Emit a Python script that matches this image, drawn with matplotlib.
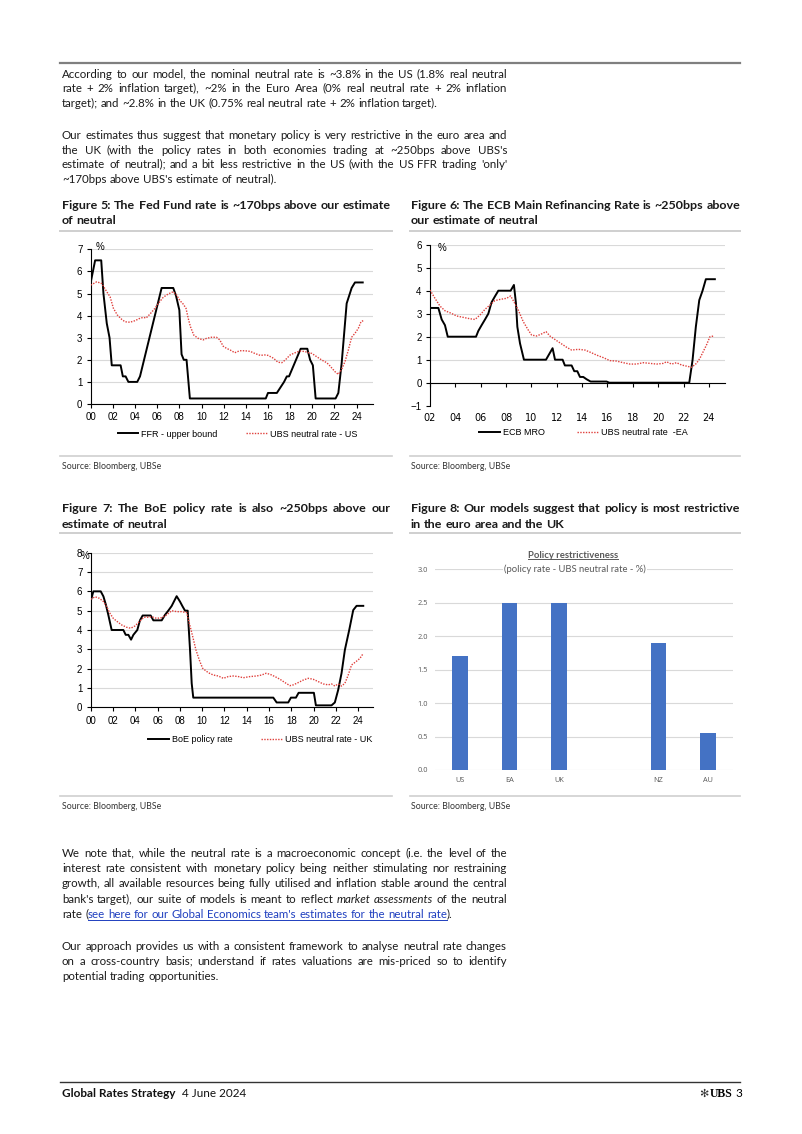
import math
import matplotlib
matplotlib.use('Agg')
import matplotlib.pyplot as plt
from matplotlib.lines import Line2D
from matplotlib.font_manager import FontProperties
import numpy as np

W, H = 802, 1134
BODY_FONT = 'Lato'
CHART_FONT = 'Liberation Sans'
LINK = '#1f3fbf'
RED = '#e0403c'

# ---------------- data (years since 2000) ----------------
us_ffr_x = [0, 0.4, 0.95, 1.15, 1.45, 1.7, 1.9, 2.7, 2.9, 3.15, 3.4, 4.2, 4.45, 6.4, 7.45, 7.7,
            8.0, 8.2, 8.4, 8.65, 8.95, 15.8, 16.0, 16.8, 17.45, 17.7, 17.9, 18.95, 19.55, 19.8,
            20.05, 20.3, 22.1, 22.35, 22.65, 23.1, 23.55, 23.85, 24.55]
us_ffr_y = [5.5, 6.5, 6.5, 5.0, 3.65, 3.0, 1.75, 1.75, 1.25, 1.25, 1.0, 1.0, 1.25, 5.25, 5.25, 4.9,
            4.25, 2.25, 2.0, 2.0, 0.25, 0.25, 0.5, 0.5, 1.0, 1.25, 1.25, 2.5, 2.5, 2.0,
            1.75, 0.25, 0.25, 0.5, 1.85, 4.55, 5.25, 5.5, 5.5]
us_neu_x = [0, 0.55, 1.0, 1.45, 1.75, 2.05, 2.4, 2.8, 3.1, 3.55, 4.0, 4.45, 4.75, 5.0, 5.35, 5.8,
            6.1, 6.55, 7.0, 7.45, 7.75, 8.05, 8.35, 8.6, 8.8, 9.0, 9.3, 9.7, 10.15, 10.45, 10.9,
            11.35, 11.65, 11.95, 12.25, 12.6, 13.0, 13.45, 13.9, 14.4, 14.8, 15.3, 15.7, 16.0,
            16.5, 16.9, 17.25, 17.55, 18.0, 18.45, 18.9, 19.35, 19.65, 19.95, 20.4, 20.85, 21.3,
            21.6, 22.05, 22.35, 22.65, 22.95, 23.25, 23.55, 23.85, 24.15, 24.4, 24.6]
us_neu_y = [5.38, 5.53, 5.45, 5.08, 4.85, 4.33, 4.03, 3.83, 3.72, 3.7, 3.77, 3.88, 3.92, 3.89, 4.07,
            4.33, 4.55, 4.83, 4.98, 5.08, 4.93, 4.68, 4.52, 4.33, 3.88, 3.5, 3.12, 2.97, 2.9, 2.97,
            3.02, 3.02, 2.9, 2.62, 2.52, 2.44, 2.32, 2.41, 2.41, 2.38, 2.29, 2.2, 2.22, 2.2, 2.07,
            1.89, 1.87, 1.99, 2.22, 2.32, 2.4, 2.37, 2.32, 2.29, 2.14, 1.99, 1.87, 1.72, 1.46,
            1.34, 1.57, 1.92, 2.44, 3.02, 3.2, 3.42, 3.73, 3.77]

ea_mro_x = [2.0, 2.66, 2.92, 3.18, 3.4, 5.63, 5.81, 6.07, 6.34, 6.6, 6.86, 7.12, 7.39, 8.36, 8.62,
            8.78, 8.89, 9.1, 9.41, 11.15, 11.41, 11.67, 11.86, 12.46, 12.64, 13.17, 13.38, 13.62,
            13.83, 14.09, 14.35, 14.67, 15.93, 16.14, 22.45, 22.71, 22.97, 23.24, 23.5, 23.76, 24.47]
ea_mro_y = [3.25, 3.25, 2.75, 2.5, 2.0, 2.0, 2.25, 2.5, 2.75, 3.0, 3.5, 3.75, 4.0, 4.0, 4.25,
            3.45, 2.43, 1.71, 1.0, 1.0, 1.25, 1.5, 1.0, 1.0, 0.75, 0.75, 0.5, 0.5,
            0.25, 0.25, 0.15, 0.05, 0.05, 0.0, 0.0, 0.98, 2.43, 3.59, 4.0, 4.5, 4.5]
ea_neu_x = [2.0, 2.39, 2.79, 3.18, 3.71, 4.1, 4.63, 5.15, 5.55, 5.94, 6.34, 6.73, 7.12, 7.52, 8.04,
            8.36, 8.62, 8.96, 9.36, 9.75, 10.02, 10.41, 10.8, 11.15, 11.46, 11.72, 12.12, 12.51,
            12.78, 13.17, 13.7, 14.22, 14.75, 15.14, 15.67, 16.19, 16.72, 17.24, 17.77, 18.29,
            18.82, 19.35, 19.87, 20.4, 20.66, 21.05, 21.45, 21.84, 22.24, 22.63, 23.02, 23.29,
            23.55, 23.81, 24.08, 24.39]
ea_neu_y = [4.03, 3.67, 3.33, 3.13, 3.01, 2.9, 2.84, 2.78, 2.75, 2.94, 3.19, 3.38, 3.57, 3.62, 3.67,
            3.77, 3.52, 3.16, 2.65, 2.29, 2.07, 2.03, 2.12, 2.22, 2.03, 1.93, 1.78, 1.64,
            1.54, 1.42, 1.45, 1.42, 1.3, 1.2, 1.09, 0.96, 0.94, 0.87, 0.81, 0.81,
            0.87, 0.84, 0.81, 0.84, 0.91, 0.81, 0.87, 0.77, 0.72, 0.67, 0.84, 1.06,
            1.35, 1.64, 2.0, 2.03]

uk_boe_x = [0, 0.24, 0.9, 1.14, 1.37, 1.58, 1.88, 2.93, 3.14, 3.38, 3.62, 3.83, 4.18, 4.42, 4.66,
            5.38, 5.62, 6.37, 6.66, 6.96, 7.26, 7.71, 8.01, 8.25, 8.46, 8.7, 8.91, 9.06, 9.2,
            16.38, 16.68, 17.72, 17.96, 18.41, 18.65, 20.02, 20.2, 21.6, 21.9, 22.2, 22.5, 22.8,
            23.19, 23.55, 23.85, 24.45]
uk_boe_y = [5.5, 6.0, 6.0, 5.74, 5.29, 4.78, 4.0, 4.0, 3.75, 3.75, 3.5, 3.75, 4.0, 4.5, 4.75,
            4.75, 4.5, 4.5, 4.78, 5.0, 5.24, 5.75, 5.47, 5.21, 5.0, 5.0, 2.97, 1.24, 0.5,
            0.5, 0.25, 0.25, 0.5, 0.5, 0.75, 0.75, 0.1, 0.1, 0.25, 0.9, 1.76, 2.97,
            4.0, 5.03, 5.25, 5.25]
uk_neu_x = [0, 0.39, 0.78, 1.14, 1.43, 1.73, 2.03, 2.39, 2.78, 3.23, 3.59, 3.97, 4.36, 4.78, 5.17,
            5.47, 5.92, 6.37, 6.81, 7.26, 7.71, 8.16, 8.61, 8.85, 9.15, 9.44, 9.74, 10.04, 10.55,
            11.0, 11.45, 11.9, 12.34, 12.79, 13.24, 13.69, 14.29, 14.88, 15.33, 15.72, 16.08,
            16.53, 16.98, 17.42, 17.87, 18.17, 18.62, 19.07, 19.52, 19.96, 20.41, 20.86, 21.31,
            21.6, 21.9, 22.2, 22.5, 22.8, 23.1, 23.4, 23.79, 24.15, 24.45]
uk_neu_y = [5.59, 5.72, 5.64, 5.47, 5.21, 4.86, 4.6, 4.43, 4.26, 4.14, 4.09, 4.21, 4.43, 4.66, 4.66,
            4.69, 4.6, 4.64, 4.78, 5.0, 4.95, 4.95, 4.9, 4.34, 3.66, 2.97, 2.45, 2.02, 1.79,
            1.67, 1.62, 1.5, 1.59, 1.62, 1.59, 1.53, 1.59, 1.62, 1.67, 1.76, 1.71,
            1.59, 1.45, 1.28, 1.12, 1.16, 1.28, 1.41, 1.5, 1.45, 1.33, 1.21, 1.16,
            1.21, 1.1, 1.21, 1.1, 1.24, 1.67, 2.19, 2.36, 2.53, 2.79]

countries = ['US', 'EA', 'UK', '', 'NZ', 'AU']
restrictiveness = [1.7, 2.5, 2.5, np.nan, 1.9, 0.55]

par1 = ["According to our model, the nominal neutral rate is ~3.8% in the US (1.8% real neutral",
        "rate + 2% inflation target), ~2% in the Euro Area (0% real neutral rate + 2% inflation",
        "target); and ~2.8% in the UK (0.75% real neutral rate + 2% inflation target)."]
par2 = ["Our estimates thus suggest that monetary policy is very restrictive in the euro area and",
        "the UK (with the policy rates in both economies trading at ~250bps above UBS's",
        "estimate of neutral); and a bit less restrictive in the US (with the US FFR trading 'only'",
        "~170bps above UBS's estimate of neutral)."]
par3 = ["We note that, while the neutral rate is a macroeconomic concept (i.e. the level of the",
        "interest rate consistent with monetary policy being neither stimulating nor restraining",
        "growth, all available resources being fully utilised and inflation stable around the central",
        "bank's target), our suite of models is meant to reflect *market assessments* of the neutral",
        "rate ([see here for our Global Economics team's estimates for the neutral rate])."]
par4 = ["Our approach provides us with a consistent framework to analyse neutral rate changes",
        "on a cross-country basis; understand if rates valuations are mis-priced so to identify",
        "potential trading opportunities."]

titles = [("Figure 5: The Fed Fund rate is ~170bps above our estimate", "of neutral"),
          ("Figure 6: The ECB Main Refinancing Rate is ~250bps above", "our estimate of neutral"),
          ("Figure 7: The BoE policy rate is also ~250bps above our", "estimate of neutral"),
          ("Figure 8: Our models suggest that policy is most restrictive", "in the euro area and the UK")]

fig = plt.figure(figsize=(W / 100, H / 100), dpi=100)
renderer = fig.canvas.get_renderer()

try:
    from matplotlib.backends.backend_agg import get_hinting_flag
except ImportError:
    get_hinting_flag = None


def fx(x):
    return x / W


def fy(y):
    return 1 - y / H


def hline(x0, x1, y, color, lw):
    fig.add_artist(Line2D([fx(x0), fx(x1)], [fy(y), fy(y)], color=color, lw=lw,
                          transform=fig.transFigure))


def text_width(s, **kw):
    t = fig.text(0, 0, s, **kw)
    w = t.get_window_extent(renderer).width
    t.remove()
    return w


def snapped_y(s, kw, base_y):
    # Agg rounds each bitmap by its own descent; pick the anchor so every word
    # lands on the same integer baseline
    target = round(base_y)
    try:
        prop = FontProperties(family=kw['family'], size=kw['fontsize'],
                              weight=kw.get('fontweight', 'normal'), style=kw.get('style', 'normal'))
        font = renderer._prepare_font(prop)
        font.set_text(s, 0, flags=get_hinting_flag())
        _, h26 = font.get_width_height()
        d = font.get_descent() / 64.0
        hd = h26 / 64.0
        return target + math.floor(hd) - math.floor(hd - d) - d
    except Exception:
        return base_y


def parse(line):
    words, cur, seg, style = [], [], '', 'n'
    for ch in line:
        if ch in '*[]':
            if seg:
                cur.append((seg, style))
                seg = ''
            if ch == '*':
                style = 'n' if style == 'i' else 'i'
            else:
                style = 'l' if ch == '[' else 'n'
        elif ch == ' ':
            if seg:
                cur.append((seg, style))
                seg = ''
            if cur:
                words.append(cur)
                cur = []
        else:
            seg += ch
    if seg:
        cur.append((seg, style))
    if cur:
        words.append(cur)
    return words


def style_kw(st, size, bold, color='#1a1a1a'):
    d = dict(fontsize=size, family=BODY_FONT, fontweight='bold' if bold else 'normal', color=color)
    if st == 'i':
        d['style'] = 'italic'
    if st == 'l':
        d['color'] = LINK
    return d


def natural_width(line, size, bold=False):
    words = parse(line)
    base = style_kw('n', size, bold)
    space = text_width('x x', **base) - text_width('xx', **base)
    total = sum(text_width(t, **style_kw(st, size, bold)) for w in words for t, st in w)
    return total + space * (len(words) - 1)


def fit_size(lines, width, s0, bold=False):
    # largest size at which every justified line fits with normal word spacing
    return min(s0 * width / natural_width(ln, s0, bold) for ln in lines) * 0.995


def put_line(line, x0, x1, y, size, justify=True, bold=False):
    words = parse(line)
    base = style_kw('n', size, bold)
    pw = [[text_width(t, **style_kw(st, size, bold)) for t, st in w] for w in words]
    total = sum(sum(p) for p in pw)
    space = text_width('x x', **base) - text_width('xx', **base)
    gap = (x1 - x0 - total) / (len(words) - 1) if justify and len(words) > 1 else space
    x = x0
    link = []
    for w, ws in zip(words, pw):
        for (t, st), wd in zip(w, ws):
            kw = style_kw(st, size, bold)
            fig.text(fx(x), fy(snapped_y(t, kw, y)), t, va='baseline', ha='left', **kw)
            if st == 'l':
                link.append((x, x + wd))
            x += wd
        x += gap
    if link:
        hline(link[0][0], link[-1][1], round(y) + 2, LINK, 0.7)


def paragraph(lines, y0, step, size, x0=62, x1=507, bold=False):
    for i, ln in enumerate(lines):
        put_line(ln, x0, x1, y0 + i * step, size, justify=i < len(lines) - 1, bold=bold)


def ax_px(left, top, right, bottom):
    return fig.add_axes([fx(left), fy(bottom), (right - left) / W, (bottom - top) / H])


# ---------------- page text ----------------
justified = [ln for p in (par1, par2, par3, par4) for ln in p[:-1]]
body_size = min(fit_size(justified, 445, 8.0), 9.0)
title_size = min(fit_size([t[0] for t in titles], 329, 8.5, bold=True), 9.5)

hline(60, 740, 63, '#7f7f7f', 1.6)
paragraph(par1, 78, 14.5, body_size)
paragraph(par2, 139, 14.6, body_size)

for (l1, l2), (x0, x1, y0) in zip(titles, [(62, 391, 209), (411, 740, 209),
                                           (62, 391, 512), (411, 740, 512)]):
    paragraph([l1, l2], y0, 15.5, title_size, x0, x1, bold=True)
for yy in (231, 533):
    hline(60, 392, yy, '#cfcfcf', 1.4)
    hline(410, 740, yy, '#cfcfcf', 1.4)
for yy in (456, 796):
    hline(60, 392, yy, '#cfcfcf', 1.2)
    hline(410, 740, yy, '#cfcfcf', 1.2)
    for xs in (62, 411):
        fig.text(fx(xs), fy(yy + 13), 'Source: Bloomberg, UBSe', fontsize=6.3, family=BODY_FONT,
                 color='#333333', va='baseline')

paragraph(par3, 857, 15.2, body_size)
paragraph(par4, 950, 15.0, body_size)

# footer
hline(60, 740, 1082, '#333333', 1.0)
t = fig.text(fx(62), fy(1097), 'Global Rates Strategy', fontsize=8.5, family=BODY_FONT,
             fontweight='bold', va='baseline', color='#111111')
ext = t.get_window_extent(renderer)
fig.text(fx(ext.x1 + 6), fy(1097), '4 June 2024', fontsize=8.5, family=BODY_FONT,
         va='baseline', color='#111111')
fig.text(fx(742), fy(1097), '3', fontsize=8.5, family=BODY_FONT, va='baseline', ha='right')
u = fig.text(fx(733), fy(1097), 'UBS', fontsize=8.5, family='Liberation Serif', fontweight='bold',
             va='baseline', ha='right')
ue = u.get_window_extent(renderer)
fig.text(fx(ue.x0 - 2), fy(1097), '\u273b', fontsize=8, family=['DejaVu Sans'], va='baseline',
         ha='right', color='#333333')


# ---------------- line charts ----------------
def line_chart(ax, x_pol, y_pol, x_neu, y_neu, xlim, ylim, xticks, labels, leg_pos, colsp):
    ax.plot(x_pol, y_pol, color='black', lw=1.4, label=labels[0], zorder=3)
    ax.plot(x_neu, y_neu, color=RED, lw=1.0, ls=(0, (1, 1)), label=labels[1], zorder=3)
    ax.set_xlim(*xlim)
    ax.set_ylim(*ylim)
    ax.set_xticks(xticks)
    ax.set_xticklabels(['%02d' % v for v in xticks])
    ax.set_yticks(range(ylim[0], ylim[1] + 1))
    ax.yaxis.grid(True, color='#d9d9d9', lw=0.8)
    ax.set_axisbelow(True)
    for s in ('top', 'right'):
        ax.spines[s].set_visible(False)
    for s in ('left', 'bottom'):
        ax.spines[s].set_linewidth(0.8)
    ax.tick_params(length=3, width=0.8, labelsize=7, pad=3)
    for lab in ax.get_xticklabels() + ax.get_yticklabels():
        lab.set_family(CHART_FONT)
    ax.legend(loc='center', bbox_to_anchor=leg_pos, ncol=2, frameon=False,
              prop={'family': CHART_FONT, 'size': 6.5}, handlelength=2.3, handletextpad=0.3,
              columnspacing=colsp)


ax1 = ax_px(90.7, 249.3, 372.7, 404)
line_chart(ax1, us_ffr_x, us_ffr_y, us_neu_x, us_neu_y, (0, 25.45), (0, 7), range(0, 25, 2),
           ['FFR - upper bound', 'UBS neutral rate - US'], (0.52, -0.194), 3.2)
fig.text(fx(100), fy(247), '%', fontsize=7, family=CHART_FONT, ha='center', va='center')

ax2 = ax_px(430, 244.7, 725, 405.7)
line_chart(ax2, ea_mro_x, ea_mro_y, ea_neu_x, ea_neu_y, (2, 25.27), (-1, 6), range(2, 25, 2),
           ['ECB MRO', 'UBS neutral rate  -EA'], (0.52, -0.168), 3.6)
ax2.spines['bottom'].set_position(('data', 0))
ax2.tick_params(axis='x', pad=18.5)
ax2.get_ygridlines()[0].set_visible(False)
fig.text(fx(442), fy(248), '%', fontsize=7, family=CHART_FONT, ha='center', va='center')

ax3 = ax_px(90.7, 552.7, 373.3, 707.3)
line_chart(ax3, uk_boe_x, uk_boe_y, uk_neu_x, uk_neu_y, (0, 25.35), (0, 8), range(0, 25, 2),
           ['BoE policy rate', 'UBS neutral rate - UK'], (0.6, -0.207), 3.2)
fig.text(fx(85), fy(556), '%', fontsize=7, family=CHART_FONT, ha='center', va='center')

# ---------------- bar chart ----------------
ax4 = ax_px(435, 569.3, 733, 770)
pos = np.arange(len(countries))
ax4.bar(pos, restrictiveness, width=0.31, color='#4472c4', zorder=3)
ax4.set_xlim(-0.5, len(countries) - 0.5)
ax4.set_ylim(0, 3.0)
ax4.set_yticks(np.arange(0, 3.01, 0.5))
ax4.set_yticklabels(['%.1f' % v for v in np.arange(0, 3.01, 0.5)])
ax4.set_xticks(pos)
ax4.set_xticklabels(countries)
ax4.yaxis.grid(True, color='#d9d9d9', lw=0.8)
ax4.set_axisbelow(True)
for s in ax4.spines.values():
    s.set_visible(False)
ax4.tick_params(length=0, labelsize=5.3, labelcolor='#595959', pad=5)
for lab in ax4.get_xticklabels() + ax4.get_yticklabels():
    lab.set_family('Open Sans')

tt = fig.text(fx(573), fy(555), 'Policy restrictiveness', fontsize=6.8, family=BODY_FONT,
              fontweight='bold', color='#595959', ha='center', va='center')
e = tt.get_window_extent(renderer)
fig.add_artist(Line2D([e.x0 / W, e.x1 / W], [(e.y0 + 0.5) / H] * 2, color='#595959', lw=0.7,
                      transform=fig.transFigure))
fig.text(fx(575), fy(569.5), '(policy rate - UBS neutral rate - %)', fontsize=6.8,
         family=BODY_FONT, color='#595959', ha='center', va='center',
         bbox=dict(fc='white', ec='none', pad=0.5))

fig.savefig('out.png', dpi=100)
